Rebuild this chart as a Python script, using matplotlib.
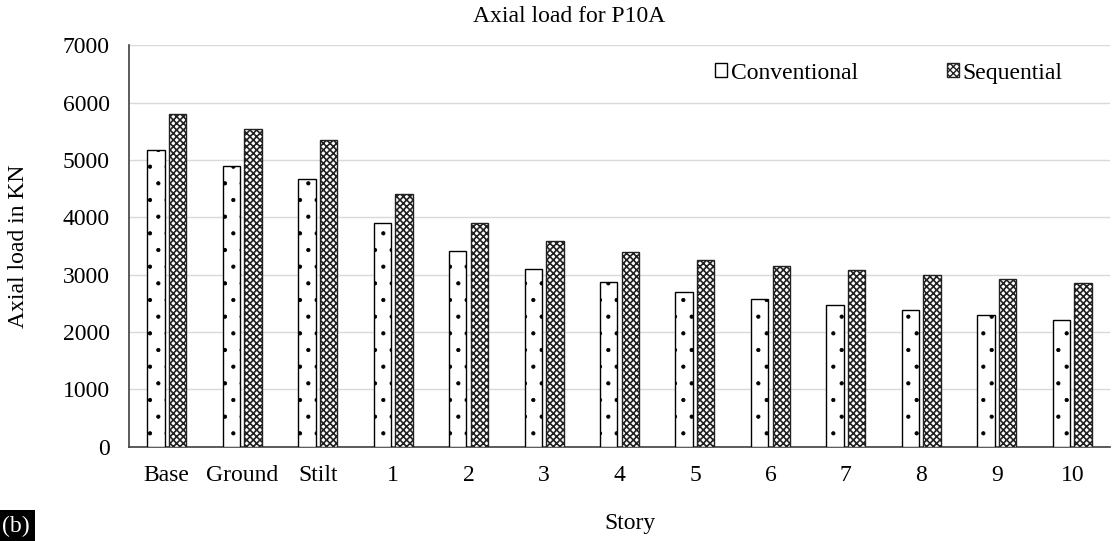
import numpy as np
import matplotlib
matplotlib.use("Agg")
import matplotlib.pyplot as plt

stories = ["Base", "Ground", "Stilt", "1", "2", "3", "4", "5", "6", "7", "8", "9", "10"]
conventional = [5170, 4890, 4670, 3900, 3420, 3100, 2870, 2700, 2575, 2475, 2380, 2295, 2215]
sequential = [5800, 5540, 5350, 4400, 3900, 3585, 3390, 3250, 3150, 3075, 3000, 2920, 2850]
y_ticks = [0, 1000, 2000, 3000, 4000, 5000, 6000, 7000]

plt.rcParams["font.family"] = ["Liberation Serif", "DejaVu Serif"]
FS = 17

fig = plt.figure(figsize=(11.15, 5.41), dpi=100)
ax = fig.add_axes([0.1157, 0.1743, 0.8798, 0.742])

x = np.arange(len(stories))
w = 0.23
off = 0.143
with plt.rc_context({"hatch.linewidth": 0.6}):
    ax.bar(x - off, conventional, width=w, facecolor="white", edgecolor="black",
           linewidth=1.0, hatch=".", label="Conventional", zorder=3)
with plt.rc_context({"hatch.linewidth": 1.2}):
    ax.bar(x + off, sequential, width=w, facecolor="white", edgecolor="#222222",
           linewidth=1.0, hatch="xxxxx", label="Sequential", zorder=3)

ax.set_xlim(-0.5, len(stories) - 0.5)
ax.set_ylim(0, 7000)
ax.set_yticks(y_ticks)
ax.set_xticks(x)
ax.set_xticklabels(stories)
ax.tick_params(axis="both", length=0, labelsize=FS, colors="black")
ax.tick_params(axis="x", pad=13)
ax.tick_params(axis="y", pad=14)
ax.yaxis.grid(True, color="#d9d9d9", linewidth=1.0, zorder=0)
ax.set_axisbelow(True)
for s in ["top", "right"]:
    ax.spines[s].set_visible(False)
for s in ["left", "bottom"]:
    ax.spines[s].set_color("#404040")
    ax.spines[s].set_linewidth(1.2)

fig.text(569 / 1115, 1 - 16 / 541, "Axial load for P10A", ha="center", va="center", fontsize=FS)
ax.set_ylabel("Axial load in KN", fontsize=FS)
ax.yaxis.set_label_coords(-0.102, 0.5)
fig.text(630 / 1115, 1 - 524 / 541, "Story", ha="center", va="center", fontsize=FS)

leg = ax.legend(loc="upper left", bbox_to_anchor=(0.576, 1.01), ncol=2, frameon=False,
                fontsize=FS, handlelength=0.5, handleheight=0.5, handletextpad=0.15,
                columnspacing=3.8)
# plain outline for the conventional key square
leg.legend_handles[0].set_hatch(None)

fig.text(0.002, 1 - 526 / 541, "(b)", ha="left", va="center", fontsize=FS, color="white",
         bbox=dict(facecolor="black", edgecolor="none", pad=3.5))

fig.savefig("out.png", dpi=100)
